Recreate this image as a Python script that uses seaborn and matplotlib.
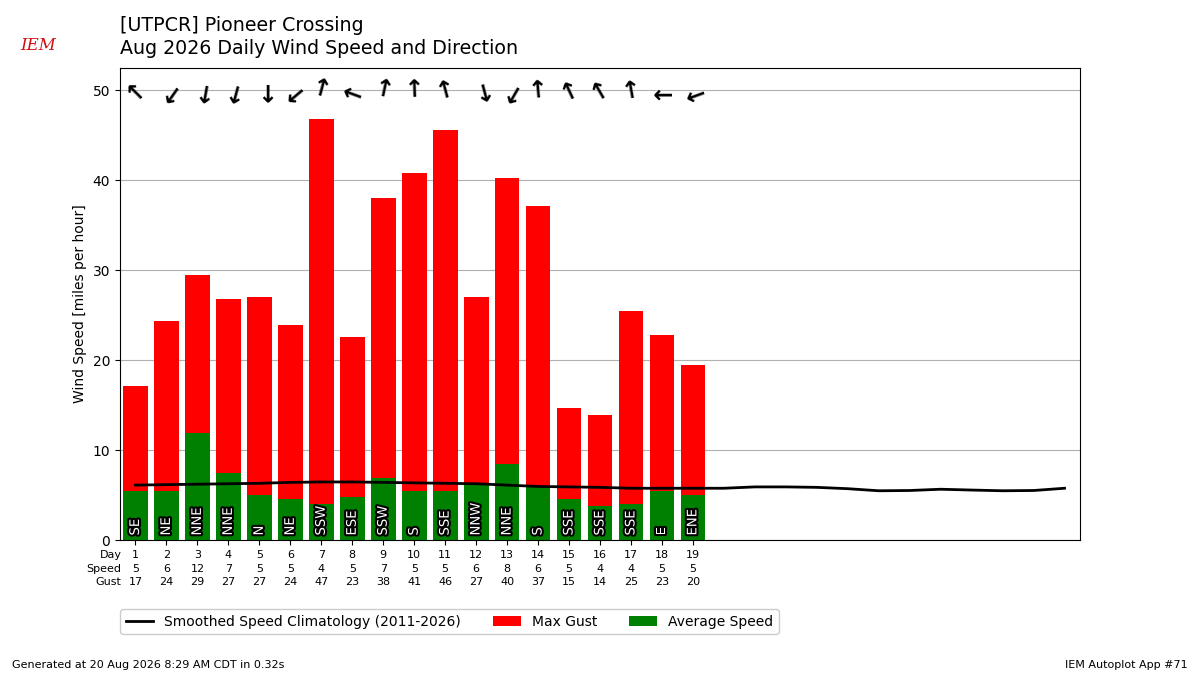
import numpy as np
import pandas as pd
import matplotlib
matplotlib.use("Agg")
import matplotlib.pyplot as plt
import matplotlib.patheffects as pe
import seaborn as sns

# daily values
days = list(range(1, 20))
avg_speed = [5.4, 5.5, 11.9, 7.4, 5.0, 4.6, 4.0, 4.8, 6.9, 5.4, 5.4, 6.3, 8.4, 5.9, 4.6, 3.8, 4.0, 5.4, 5.0]
max_gust = [17.1, 24.3, 29.4, 26.8, 27.0, 23.9, 46.8, 22.6, 38.0, 40.8, 45.6, 27.0, 40.2, 37.1, 14.7, 13.9, 25.4, 22.8, 19.5]
drct = [135, 35, 10, 15, 0, 50, 195, 110, 192, 178, 165, 345, 30, 175, 155, 150, 170, 90, 70]
drct_txt = ["SE", "NE", "NNE", "NNE", "N", "NE", "SSW", "ESE", "SSW", "S", "SSE",
            "NNW", "NNE", "S", "SSE", "SSE", "SSE", "E", "ENE"]

# smoothed climatology for every day of the month
clim_days = list(range(1, 32))
clim_speed = [6.1, 6.15, 6.2, 6.25, 6.3, 6.4, 6.45, 6.45, 6.4, 6.35, 6.3, 6.25, 6.1, 5.95, 5.9,
              5.85, 5.75, 5.75, 5.75, 5.75, 5.9, 5.9, 5.85, 5.7, 5.47, 5.5, 5.64, 5.55, 5.47, 5.5, 5.75]

df = pd.DataFrame({"day": days, "speed": avg_speed, "gust": max_gust})
clim = pd.DataFrame({"day": clim_days, "speed": clim_speed})

fig = plt.figure(figsize=(12, 6.75), dpi=100)
ax = fig.add_axes([0.1, 0.2, 0.8, 0.7])

sns.barplot(data=df, x="day", y="gust", native_scale=True, color="red", saturation=1,
            width=0.8, label="Max Gust", ax=ax, zorder=2)
sns.barplot(data=df, x="day", y="speed", native_scale=True, color="green", saturation=1,
            width=0.8, label="Average Speed", ax=ax, zorder=2)
sns.lineplot(data=clim, x="day", y="speed", color="k", lw=2, zorder=3,
             label="Smoothed Speed Climatology (2011-2026)", ax=ax)

# direction labels inside the bars
for d, txt in zip(days, drct_txt):
    ax.text(d, 0.5, txt, rotation=90, ha="center", va="bottom", color="white", fontsize=9.5,
            path_effects=[pe.withStroke(linewidth=3, foreground="black")], zorder=4)

# arrows showing where the wind blows to
for d, deg in zip(days, drct):
    ax.text(d, 50, "\u2191", rotation=-((deg + 180) % 360), rotation_mode="anchor",
            ha="center", va="center", fontsize=17, fontweight="bold", zorder=4)

ax.set_xlim(0.5, 31.5)
ax.set_ylim(0, 52.5)
ax.set_yticks([0, 10, 20, 30, 40, 50])
ax.yaxis.grid(True, color="#b0b0b0", lw=0.8, zorder=0)
ax.set_axisbelow(True)
ax.set_xticks(days)
ax.set_xticklabels([f"{d}\n{s:.0f}\n{g:.0f}" for d, s, g in zip(days, avg_speed, max_gust)],
                   fontsize=8, linespacing=1.48)
ax.annotate("Day\nSpeed\nGust", xy=(0, 0), xycoords="axes fraction", xytext=(1, -7),
            textcoords="offset points", ha="right", va="top", fontsize=8, linespacing=1.48)
ax.set_xlabel("")
ax.set_ylabel("Wind Speed [miles per hour]")
ax.tick_params(axis="y", labelsize=10)

handles, labels = ax.get_legend_handles_labels()
order = [labels.index("Smoothed Speed Climatology (2011-2026)"), labels.index("Max Gust"),
         labels.index("Average Speed")]
ax.legend([handles[i] for i in order], [labels[i] for i in order], ncol=3, loc="upper left",
          bbox_to_anchor=(0.1, 1 - 609 / 675), bbox_transform=fig.transFigure, fontsize=10,
          borderaxespad=0, columnspacing=2.3, fancybox=True, framealpha=1)

fig.text(0.1, 1 - 16 / 675, "[UTPCR] Pioneer Crossing\nAug 2026 Daily Wind Speed and Direction",
         ha="left", va="top", fontsize=13.7, linespacing=1.25)
fig.text(38 / 1200, 1 - 45 / 675, "IEM", color="#d01010", fontsize=12, style="italic",
         family="serif", ha="center", va="center")
fig.text(0.01, 0.01, "Generated at 20 Aug 2026 8:29 AM CDT in 0.32s", fontsize=8)
fig.text(0.99, 0.01, "IEM Autoplot App #71", fontsize=8, ha="right")

fig.savefig("out.png", dpi=100)
